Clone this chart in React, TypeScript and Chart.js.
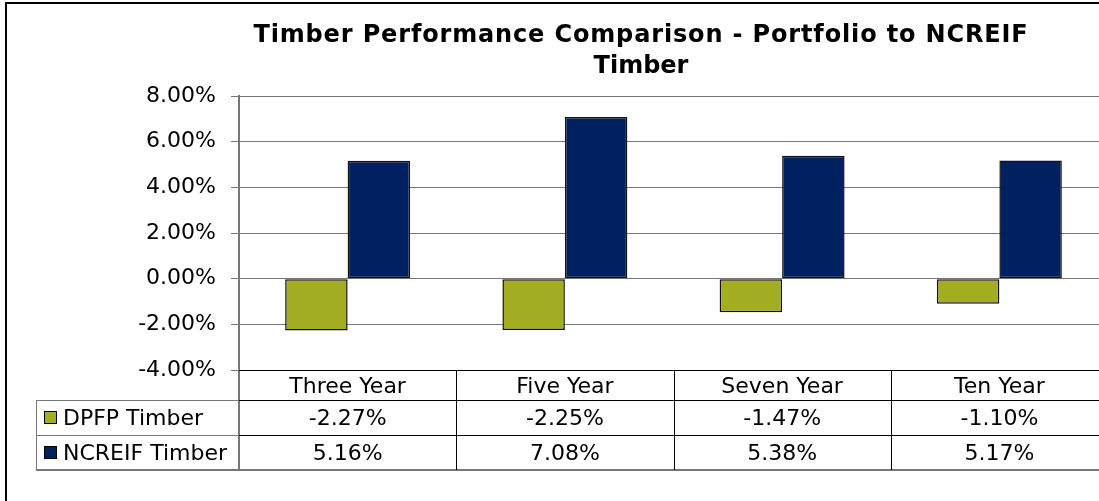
import React, { useEffect, useRef } from "react";
import { Chart, registerables } from "chart.js";

Chart.register(...registerables);

const categories = ["Three Year", "Five Year", "Seven Year", "Ten Year"];
const dpfpValues = [-2.27, -2.25, -1.47, -1.1];
const ncreifValues = [5.16, 7.08, 5.38, 5.17];
const seriesNames = ["DPFP Timber", "NCREIF Timber"];
const titleLines = ["Timber Performance Comparison - Portfolio to NCREIF", "Timber"];

const FONT = "'DejaVu Sans', Verdana, sans-serif";
const GREEN = "#A2AD22";
const NAVY = "#002060";
const GRID = "#777777";

const fmt = (v: number) => v.toFixed(2) + "%";

const framePlugin = {
  id: "frame",
  beforeDraw(chart: any) {
    const ctx = chart.ctx;
    ctx.save();
    ctx.fillStyle = "#ffffff";
    ctx.fillRect(0, 0, chart.width, chart.height);
    ctx.strokeStyle = "#000000";
    ctx.lineWidth = 2;
    ctx.strokeRect(6, 3, chart.width + 20, chart.height + 20);
    ctx.restore();
  },
  afterDraw(chart: any) {
    const ctx = chart.ctx;
    const area = chart.chartArea;
    const xs = chart.scales.x;
    // title
    ctx.save();
    ctx.fillStyle = "#000";
    ctx.font = `bold 24px ${FONT}`;
    ctx.textAlign = "center";
    ctx.textBaseline = "alphabetic";
    try {
      (ctx as any).letterSpacing = "0.85px";
    } catch (e) {}
    ctx.fillText(titleLines[0], 641, 42);
    try {
      (ctx as any).letterSpacing = "0px";
    } catch (e) {}
    ctx.fillText(titleLines[1], 641, 73);

    // data table
    const top = area.bottom;
    const r1 = top + 30;
    const r2 = r1 + 35;
    const r3 = r2 + 35;
    const legendLeft = 36;
    const n = categories.length;
    const cw = (area.right - area.left) / n;

    ctx.lineWidth = 1;
    ctx.strokeStyle = GRID;
    ctx.beginPath();
    ctx.moveTo(legendLeft + 0.5, r1);
    ctx.lineTo(legendLeft + 0.5, r3);
    ctx.moveTo(legendLeft, r1 + 0.5);
    ctx.lineTo(area.left, r1 + 0.5);
    ctx.moveTo(legendLeft, r2 + 0.5);
    ctx.lineTo(area.left, r2 + 0.5);
    ctx.stroke();
    ctx.lineWidth = 2;
    ctx.beginPath();
    ctx.moveTo(legendLeft, r3);
    ctx.lineTo(area.right + 5, r3);
    ctx.stroke();
    ctx.beginPath();
    ctx.moveTo(area.left, top);
    ctx.lineTo(area.left, r3);
    ctx.stroke();

    ctx.strokeStyle = "#000";
    ctx.lineWidth = 1;
    ctx.beginPath();
    ctx.moveTo(area.left, top + 0.5);
    ctx.lineTo(area.right, top + 0.5);
    ctx.moveTo(area.left, r1 + 0.5);
    ctx.lineTo(area.right, r1 + 0.5);
    ctx.moveTo(area.left, r2 + 0.5);
    ctx.lineTo(area.right, r2 + 0.5);
    for (let i = 1; i <= n; i++) {
      const x = Math.round(area.left + i * cw) + 0.5;
      ctx.moveTo(x, top);
      ctx.lineTo(x, r3);
    }
    ctx.stroke();

    ctx.font = `22px ${FONT}`;
    ctx.fillStyle = "#000";
    ctx.textAlign = "center";
    for (let i = 0; i < n; i++) {
      const cx = xs.getPixelForTick(i);
      ctx.fillText(categories[i], cx, r1 - 7);
      ctx.fillText(fmt(dpfpValues[i]), cx, r2 - 10);
      ctx.fillText(fmt(ncreifValues[i]), cx, r3 - 10);
    }
    const colors = [GREEN, NAVY];
    const rows = [r1, r2];
    ctx.textAlign = "left";
    for (let k = 0; k < 2; k++) {
      const y0 = rows[k] + 11;
      ctx.fillStyle = colors[k];
      ctx.fillRect(44, y0, 13, 13);
      ctx.strokeStyle = "#000";
      ctx.lineWidth = 1;
      ctx.strokeRect(44.5, y0 + 0.5, 12, 12);
      ctx.fillStyle = "#000";
      ctx.fillText(seriesNames[k], 63, rows[k] + 25);
    }
    ctx.restore();
  },
};

export default function App() {
  const ref = useRef<HTMLCanvasElement | null>(null);
  useEffect(() => {
    document.body.style.margin = "0";
    document.body.style.overflow = "hidden";
    const canvas = ref.current!;
    const chart = new Chart(canvas, {
      type: "bar",
      data: {
        labels: categories,
        datasets: [
          {
            label: seriesNames[0],
            data: dpfpValues,
            backgroundColor: GREEN,
            borderColor: "#111",
            borderWidth: 1.5,
            borderSkipped: false,
            categoryPercentage: 0.575,
            barPercentage: 1,
          },
          {
            label: seriesNames[1],
            data: ncreifValues,
            backgroundColor: NAVY,
            borderColor: "#111",
            borderWidth: 1.5,
            borderSkipped: false,
            categoryPercentage: 0.575,
            barPercentage: 1,
          },
        ],
      },
      options: {
        responsive: false,
        animation: false,
        devicePixelRatio: 1,
        layout: { padding: { left: 0, top: 96, right: 12, bottom: 150 } },
        plugins: {
          legend: { display: false },
          tooltip: { enabled: false },
          title: { display: false },
        },
        scales: {
          x: { display: false },
          y: {
            min: -4,
            max: 8,
            afterFit: (s: any) => {
              s.width = 239;
            },
            ticks: {
              stepSize: 2,
              callback: (v: any) => fmt(Number(v)),
              font: { family: FONT, size: 22 },
              color: "#000",
              padding: 15,
            },
            grid: { color: GRID, tickLength: 8, tickColor: GRID, lineWidth: 1 },
            border: { color: GRID, width: 2 },
          },
        },
      },
      plugins: [framePlugin],
    });
    return () => chart.destroy();
  }, []);
  return (
    <canvas
      ref={ref}
      width={1120}
      height={520}
      style={{ position: "absolute", left: 0, top: 0, width: 1120, height: 520 }}
    />
  );
}
